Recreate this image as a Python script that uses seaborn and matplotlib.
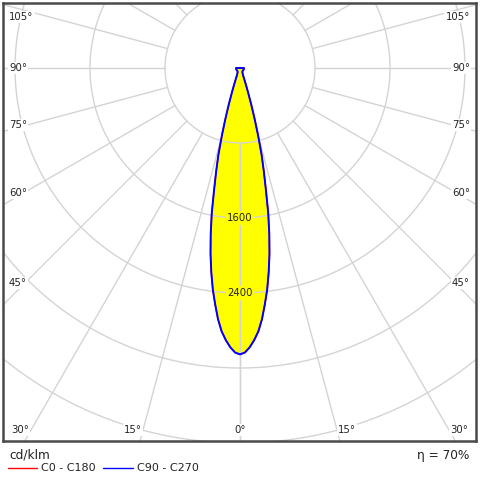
import numpy as np
import pandas as pd
import matplotlib
matplotlib.use("Agg")
import matplotlib.pyplot as plt
from matplotlib.lines import Line2D
import seaborn as sns

# ---- data (cd/klm vs. gamma angle from nadir) ----
gamma_deg = [0, 1, 2, 3, 4, 5, 6, 7, 8, 9, 10, 11, 12, 13, 14, 15, 16, 17, 18, 19,
             20, 22.5, 25, 30, 35, 40, 45, 50, 60, 70, 80, 90, 180]
c0_c180 = [3055, 3035, 2980, 2905, 2815, 2690, 2535, 2380, 2200, 2010, 1800, 1580,
           1330, 1130, 950, 750, 570, 420, 300, 220, 160, 90, 70, 50, 45, 43, 42, 42,
           42, 42, 42, 42, 0]
c90_c270 = [3055, 3035, 2980, 2905, 2815, 2690, 2535, 2380, 2200, 2010, 1800, 1580,
            1330, 1130, 950, 750, 570, 420, 300, 220, 160, 90, 70, 50, 45, 43, 42, 42,
            42, 42, 42, 42, 0]
series_names = ["C0 - C180", "C90 - C270"]
series_colors = ["#ff0000", "#0000ff"]
ring_values = [800, 1600, 2400, 3200, 4000]
ring_labels = ["1600", "2400"]
side_angle_labels = ["45°", "60°", "75°", "90°", "105°"]
bottom_angle_labels = ["30°", "15°", "0°", "15°", "30°"]
unit_label = "cd/klm"
efficiency_label = "η = 70%"

# ---- layout ----
W = H = 480
CX, CY = 240, 68           # pixel position of the diagram centre
S = 800 / 75.0             # cd/klm per pixel
L, R, T, B = 3, 476, 3, 441

sns.set_style("white")
plt.rcParams["font.family"] = ["DejaVu Sans"]

fig = plt.figure(figsize=(W / 100, H / 100), dpi=100)
ax = fig.add_axes([L / W, (H - B) / H, (R - L) / W, (B - T) / H])
ax.set_xticks([])
ax.set_yticks([])
for sp in ax.spines.values():
    sp.set_color("#4a4a4a")
    sp.set_linewidth(1.8)


def curve_xy(values):
    g = np.radians(np.array(gamma_deg, dtype=float))
    r = np.array(values, dtype=float)
    xr, yr = r * np.sin(g), -r * np.cos(g)
    # left half (C180 / C270) mirrored, traversed from top to nadir
    xs = np.concatenate([-xr[::-1], xr[1:]])
    ys = np.concatenate([yr[::-1], yr[1:]])
    return xs, ys


frames = []
for name, vals in zip(series_names, [c0_c180, c90_c270]):
    xs, ys = curve_xy(vals)
    frames.append(pd.DataFrame({"x": xs, "y": ys, "series": name}))
df = pd.concat(frames, ignore_index=True)

# yellow fill
for name in series_names:
    d = df[df.series == name]
    ax.fill(d.x, d.y, color="#ffff00", zorder=1, lw=0)

# grid
grid_c = "#d4d4d4"
t = np.linspace(0, 2 * np.pi, 721)
for rv in ring_values:
    ax.plot(rv * np.sin(t), rv * np.cos(t), color=grid_c, lw=1.0, zorder=2)
for a in range(0, 181, 15):
    ar = np.radians(a)
    for sgn in (-1, 1):
        ax.plot([sgn * 800 * np.sin(ar), sgn * 8000 * np.sin(ar)],
                [-800 * np.cos(ar), -8000 * np.cos(ar)], color=grid_c, lw=1.0, zorder=2)

# ring value labels
for lab in ring_labels:
    ax.text(0, -float(lab), lab, ha="center", va="center", fontsize=7.3, color="#222222",
            zorder=3, bbox=dict(boxstyle="square,pad=0.15", fc="#ffff00", ec="none"))

# curves
widths = [1.0, 1.4]
for i, name in enumerate(series_names):
    d = df[df.series == name]
    sns.lineplot(data=d, x="x", y="y", sort=False, estimator=None, ax=ax,
                 color=series_colors[i], lw=widths[i], zorder=4 + i, legend=False)
ax.set_xlabel("")
ax.set_ylabel("")
ax.set_xlim((L - CX) * S, (R - CX) * S)
ax.set_ylim(-(B - CY) * S, (CY - T) * S)


def px(xp, yp):
    return (xp - CX) * S, (CY - yp) * S


lab_box = dict(boxstyle="square,pad=0.12", fc="white", ec="none")
side_y = [283, 193, 125, 68, 17]
for lab, yp in zip(side_angle_labels, side_y):
    ax.text(*px(9, yp), lab, ha="left", va="center", fontsize=7.3, color="#222222",
            zorder=6, bbox=lab_box)
    ax.text(*px(470, yp), lab, ha="right", va="center", fontsize=7.3, color="#222222",
            zorder=6, bbox=lab_box)
bottom_x = [20, 133, 240, 347, 459]
for lab, xp in zip(bottom_angle_labels, bottom_x):
    ax.text(*px(xp, 430), lab, ha="center", va="center", fontsize=7.3, color="#222222",
            zorder=6, bbox=lab_box)

# legend / footer
fig.text(9 / W, 1 - 455 / H, unit_label, ha="left", va="center", fontsize=8.7, color="#222222")
fig.text(469 / W, 1 - 455 / H, efficiency_label, ha="right", va="center", fontsize=8.7,
         color="#222222")
leg_line_x = [(8, 37), (103, 133)]
leg_text_x = [41, 137]
for i, name in enumerate(series_names):
    x0, x1 = leg_line_x[i]
    fig.add_artist(Line2D([x0 / W, x1 / W], [1 - 468 / H, 1 - 468 / H],
                          color=series_colors[i], lw=1.0))
    fig.text(leg_text_x[i] / W, 1 - 468 / H, name, ha="left", va="center", fontsize=8,
             color="#222222")

fig.savefig("out.png", dpi=100)
